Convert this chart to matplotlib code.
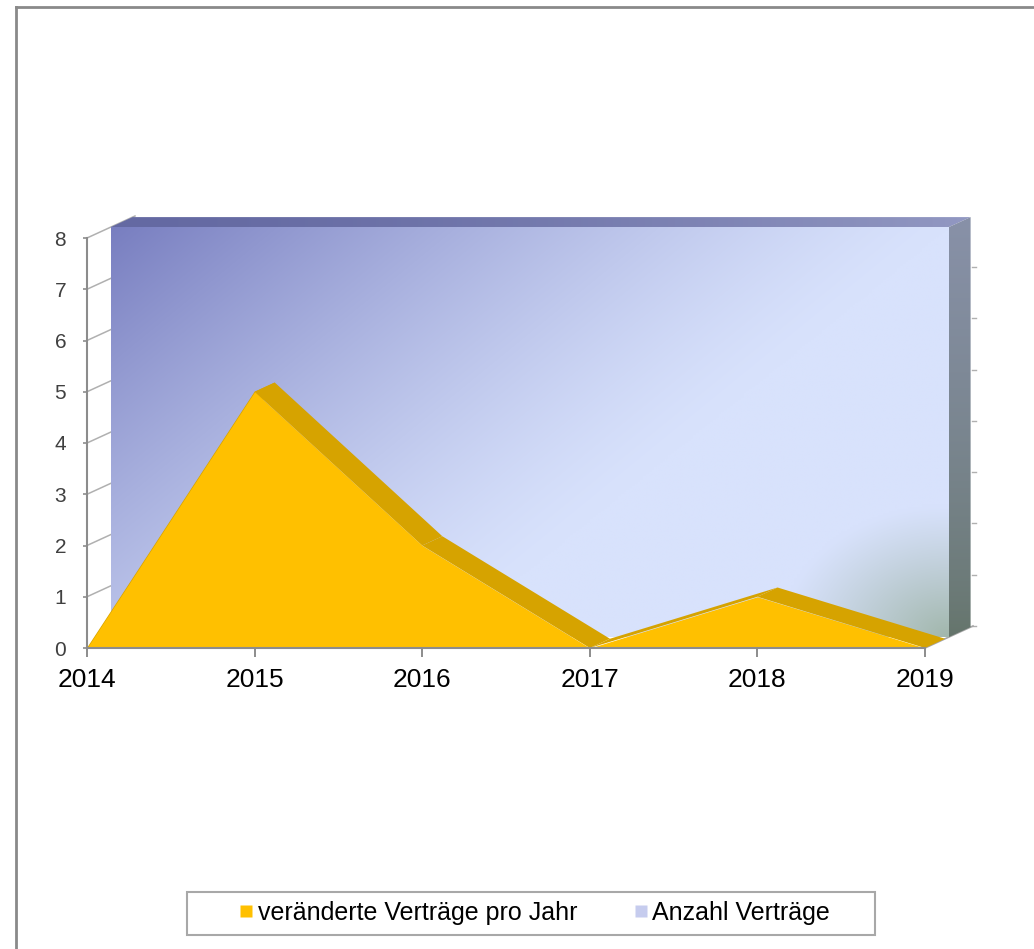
import numpy as np
import matplotlib
matplotlib.use("Agg")
import matplotlib.pyplot as plt
from matplotlib.patches import Polygon, Rectangle
from matplotlib.lines import Line2D

plt.rcParams['font.family'] = ['Liberation Sans', 'DejaVu Sans']

# data
years = [2014, 2015, 2016, 2017, 2018, 2019]
changed = [0, 5, 2, 0, 1, 0]          # veränderte Verträge pro Jahr
total = [8, 8, 8, 8, 8, 8]            # Anzahl Verträge (at least 8, clipped by the axis)
y_ticks = [0, 1, 2, 3, 4, 5, 6, 7, 8]
labels = ['veränderte Verträge pro Jahr', 'Anzahl Verträge']

W, H = 1034, 949
YMAX = 8
# depth of the fake 3d box, in data units
DX = 0.2864
DY = 0.4293

fig = plt.figure(figsize=(W / 100, H / 100), dpi=100)
ax = fig.add_axes([87 / W, (H - 648) / H, (925 - 87) / W, 410 / H])
ax.set_facecolor('none')


def rgb(*c):
    return np.array(c) / 255.0


def gradient_face(verts, arr, extent, z):
    poly = Polygon(verts, closed=True, transform=ax.transData)
    im = ax.imshow(arr, extent=extent, aspect='auto', zorder=z, interpolation='bilinear')
    im.set_clip_box(fig.bbox)
    im.set_clip_path(poly)
    return im


# left wall gridlines
for k in y_ticks:
    ax.plot([years[0], years[0] + DX], [k, k + DY], color='#B0B0B0', lw=1.1,
            zorder=0.5, clip_on=False)
# small ticks on the back right edge
for k in y_ticks[:-1]:
    ax.plot([years[-1] + DX * 0.97, years[-1] + DX * 1.07], [k + DY, k + DY],
            color='#B0B0B0', lw=1.0, zorder=0.5, clip_on=False)

# ---- "Anzahl Verträge" series (back row) ----
f, b = 0.5, 0.95
top = np.minimum(total, YMAX)
xs = np.array(years, dtype=float)
front_verts = ([(x + f * DX, f * DY) for x in xs[::-1]] +
               [(x + f * DX, t + f * DY) for x, t in zip(xs, top)])

nh, nw = 200, 300
u = np.linspace(0, 1, nw)[None, :]
v = np.linspace(1, 0, nh)[:, None]
dark, light, green = rgb(120, 126, 192), rgb(216, 226, 252), rgb(148, 172, 152)
t = u * 1.0 + (1 - v) * 0.6
w = np.clip(1 - t, 0, 1) ** 1.3
img = light[None, None, :] + w[..., None] * (dark - light)[None, None, :]
g = np.clip(1 - np.hypot((1 - u) / 0.2, v / 0.32), 0, 1) ** 1.1
img = img + (g * 0.8)[..., None] * (green - img)
gradient_face(front_verts, img,
              (xs[0] + f * DX, xs[-1] + f * DX, f * DY, YMAX + f * DY), 0.6)

# top face
top_verts = ([(x + f * DX, t + f * DY) for x, t in zip(xs, top)] +
             [(x + b * DX, t + b * DY) for x, t in zip(xs[::-1], top[::-1])])
tu = np.linspace(0, 1, 300)[None, :]
c0, c1 = rgb(100, 105, 162), rgb(146, 152, 194)
timg = c0[None, None, :] + (tu ** 1.5)[..., None] * (c1 - c0)[None, None, :]
timg = np.repeat(timg, 10, axis=0)
gradient_face(top_verts, timg,
              (xs[0] + f * DX, xs[-1] + b * DX, YMAX + f * DY, YMAX + b * DY), 0.7)

# right side face
side_verts = [(xs[-1] + f * DX, f * DY), (xs[-1] + b * DX, b * DY),
              (xs[-1] + b * DX, top[-1] + b * DY), (xs[-1] + f * DX, top[-1] + f * DY)]
sv = np.linspace(1, 0, 200)[:, None]
s_top, s_bot = rgb(136, 145, 168), rgb(100, 116, 106)
simg = s_bot[None, None, :] + (sv ** 0.7)[..., None] * (s_top - s_bot)[None, None, :]
simg = np.repeat(simg, 10, axis=1)
gradient_face(side_verts, simg,
              (xs[-1] + f * DX, xs[-1] + b * DX, f * DY, YMAX + b * DY), 0.7)

# ---- "veränderte Verträge" series (front row) ----
yb = 0.42
for i in range(len(years) - 1):
    x0, x1 = years[i], years[i + 1]
    v0, v1 = changed[i], changed[i + 1]
    face = Polygon([(x0, v0), (x1, v1), (x1 + yb * DX, v1 + yb * DY),
                    (x0 + yb * DX, v0 + yb * DY)], closed=True,
                   facecolor='#D6A300', edgecolor='none', zorder=0.8, clip_on=False)
    ax.add_patch(face)
ax.fill_between(years, 0, changed, color='#FFC000', lw=0, zorder=0.9, clip_on=False)

# floor edge on the right
ax.plot([years[-1], years[-1] + DX], [0, DY], color='#A6A6A6', lw=1.2, zorder=0.5,
        clip_on=False)

ax.set_xlim(years[0], years[-1])
ax.set_ylim(0, YMAX)

for s in ['top', 'right']:
    ax.spines[s].set_visible(False)
for s in ['left', 'bottom']:
    ax.spines[s].set_color('#8C8C8C')
    ax.spines[s].set_linewidth(1.5)
    ax.spines[s].set_zorder(3)

ax.set_xticks(years)
ax.set_xticklabels([str(y) for y in years])
ax.set_yticks(y_ticks)
ax.set_yticklabels([str(k) for k in y_ticks])
ax.tick_params(axis='x', length=6.5, width=1.4, color='#8C8C8C', labelsize=19, pad=8,
               labelcolor='black')
ax.tick_params(axis='y', length=3, width=1.2, color='#8C8C8C', labelsize=15, pad=12,
               labelcolor='#404040')

# outer frame (only top and left edge are inside the picture)
fig.add_artist(Line2D([16 / W, 1], [1 - 7 / H, 1 - 7 / H], transform=fig.transFigure,
                      color='#8A8A8A', lw=2))
fig.add_artist(Line2D([16 / W, 16 / W], [0, 1 - 7 / H], transform=fig.transFigure,
                      color='#8A8A8A', lw=2))

# legend
fig.add_artist(Rectangle((187 / W, (H - 935) / H), (875 - 187) / W, 43 / H,
                         transform=fig.transFigure, facecolor='white',
                         edgecolor='#A8A8A8', lw=1.5, zorder=1))
handles = [Line2D([], [], marker='s', ls='none', markersize=8.6,
                  markerfacecolor='#FFC000', markeredgecolor='none'),
           Line2D([], [], marker='s', ls='none', markersize=8.6,
                  markerfacecolor='#C6CCEE', markeredgecolor='none')]
leg = fig.legend(handles, labels, loc='center', bbox_to_anchor=(535 / W, (H - 913) / H),
                 bbox_transform=fig.transFigure, ncol=2, frameon=False, fontsize=18,
                 handlelength=0.5, handletextpad=0.2, columnspacing=2.3)
leg.set_zorder(5)

fig.savefig('out.png', dpi=100)
